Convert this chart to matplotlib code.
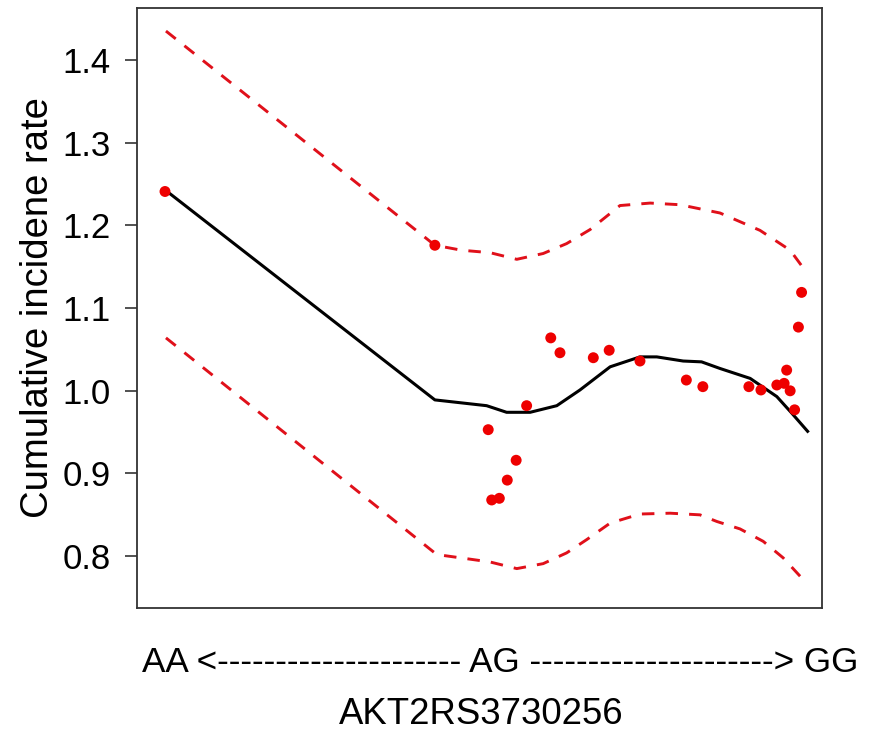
import matplotlib
matplotlib.use("Agg")
import matplotlib.pyplot as plt

plt.rcParams['font.family'] = ['Liberation Sans', 'DejaVu Sans']
plt.rcParams['lines.scale_dashes'] = False

# Observed data points (genotype score scale: AA=0 ... GG=2)
pt_x = [0.000, 0.850, 1.018, 1.029, 1.053, 1.078, 1.106, 1.139, 1.215, 1.244,
        1.349, 1.399, 1.496, 1.642, 1.694, 1.839, 1.877, 1.927, 1.950, 1.958,
        1.969, 1.983, 1.995, 2.005]
pt_y = [1.241, 1.176, 0.953, 0.868, 0.870, 0.892, 0.916, 0.982, 1.064, 1.046,
        1.040, 1.049, 1.036, 1.013, 1.005, 1.005, 1.001, 1.007, 1.009, 1.025,
        1.000, 0.977, 1.077, 1.119]

# Fitted curve
fit_x = [0.000, 0.850, 1.013, 1.076, 1.150, 1.234, 1.307, 1.402, 1.496, 1.549,
         1.632, 1.690, 1.748, 1.843, 1.927, 1.974, 2.024]
fit_y = [1.243, 0.989, 0.982, 0.974, 0.974, 0.982, 1.001, 1.029, 1.041, 1.041,
         1.036, 1.035, 1.027, 1.015, 0.993, 0.973, 0.951]

# Upper confidence bound
up_x = [0.003, 0.850, 0.934, 1.024, 1.108, 1.191, 1.265, 1.339, 1.433, 1.528,
        1.622, 1.748, 1.874, 1.969, 2.019]
up_y = [1.435, 1.176, 1.170, 1.167, 1.159, 1.166, 1.178, 1.195, 1.224, 1.227,
        1.225, 1.215, 1.194, 1.170, 1.144]

# Lower confidence bound
lo_x = [0.003, 0.856, 0.950, 1.024, 1.108, 1.191, 1.265, 1.328, 1.402, 1.496,
        1.591, 1.685, 1.738, 1.811, 1.884, 1.947, 2.019]
lo_y = [1.064, 0.802, 0.797, 0.793, 0.785, 0.791, 0.804, 0.820, 0.840, 0.851,
        0.852, 0.850, 0.842, 0.833, 0.818, 0.798, 0.768]

yticks = [0.8, 0.9, 1.0, 1.1, 1.2, 1.3, 1.4]
ytick_labels = ["0.8", "0.9", "1.0", "1.1", "1.2", "1.3", "1.4"]

fig = plt.figure(figsize=(8.87, 7.38), dpi=100)
ax = fig.add_axes([137/887, 1 - 608/738, (822-137)/887, (608-8)/738])

ax.plot(up_x, up_y, color='#e0101a', lw=2.1, dashes=(9, 8))
ax.plot(lo_x, lo_y, color='#e0101a', lw=2.1, dashes=(9, 8))
ax.plot(fit_x, fit_y, color='black', lw=2.2)
ax.scatter(pt_x, pt_y, s=62, color='#ee0000', edgecolors='none', zorder=3)

ax.set_xlim(-0.0882, 2.0693)
ax.set_ylim(1.4 - 548/827, 1.4 + 52/827)
ax.set_xticks([])
ax.set_yticks(yticks)
ax.set_yticklabels(ytick_labels)
ax.tick_params(axis='y', length=9, width=1.2, pad=10, labelsize=25, color='#333333')
for s in ax.spines.values():
    s.set_linewidth(1.3)
    s.set_color('#333333')

ax.set_ylabel("Cumulative incidene rate", fontsize=27.5)
ax.yaxis.set_label_coords(-0.118, 0.5)

dashes = "-" * 21
fig.text(500/887, 1 - 663/738, f"AA <{dashes} AG {dashes}> GG",
         ha='center', va='center', fontsize=25.3)
fig.text(481/887, 1 - 715/738, "AKT2RS3730256", ha='center', va='center', fontsize=26.3)

fig.savefig("out.png", dpi=100)
